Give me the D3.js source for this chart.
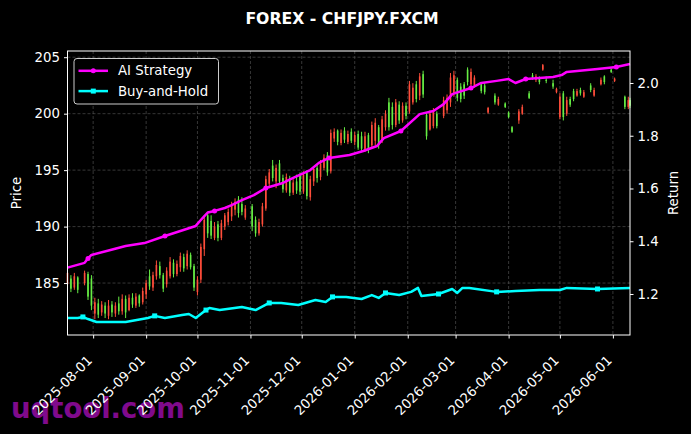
<!DOCTYPE html>
<html>
<head>
<meta charset="utf-8">
<script src="https://cdn.jsdelivr.net/npm/d3@7"></script>
<style>
  body { margin: 0; background: #000; }
  svg { display: block; font-family: 'DejaVu Sans', sans-serif; }
</style>
</head>
<body>
<div id="chart"></div>
<script>
// daily-ish candles: date, open, high, low, close (red = up, green = down)
const ohlc = [
  ['2025-07-17', 184.9, 186.2, 184.6, 185.9], ['2025-07-19', 185.4, 185.7, 184.2, 184.5],
  ['2025-07-21', 184.6, 185.9, 184.4, 185.6], ['2025-07-23', 185.5, 185.6, 184.1, 184.4],
  ['2025-07-27', 185.0, 186.1, 184.8, 185.9], ['2025-07-29', 185.8, 186.0, 183.5, 183.8],
  ['2025-07-31', 185.4, 185.7, 182.6, 183.0], ['2025-08-02', 182.3, 183.7, 181.8, 183.3],
  ['2025-08-04', 183.2, 183.6, 181.9, 182.2], ['2025-08-06', 182.4, 183.4, 182.1, 183.1],
  ['2025-08-08', 183.0, 183.3, 181.9, 182.3], ['2025-08-10', 182.1, 183.5, 181.8, 183.0],
  ['2025-08-12', 183.1, 183.4, 182.0, 182.4], ['2025-08-14', 182.3, 183.3, 182.0, 183.0],
  ['2025-08-16', 183.2, 183.8, 182.2, 182.5], ['2025-08-18', 182.5, 184.0, 182.2, 183.6],
  ['2025-08-20', 183.6, 183.9, 181.9, 182.4], ['2025-08-22', 182.6, 184.0, 182.5, 183.7],
  ['2025-08-24', 183.7, 184.1, 182.8, 183.1], ['2025-08-26', 183.0, 184.1, 182.8, 183.8],
  ['2025-08-28', 183.9, 184.0, 182.9, 183.2], ['2025-08-30', 183.3, 184.6, 183.1, 184.3],
  ['2025-09-01', 184.0, 185.3, 183.6, 185.0], ['2025-09-03', 185.6, 186.2, 184.4, 184.7],
  ['2025-09-05', 184.6, 186.0, 184.3, 185.7], ['2025-09-07', 185.6, 187.0, 185.3, 186.6],
  ['2025-09-09', 186.5, 186.9, 185.4, 185.7], ['2025-09-11', 185.7, 185.9, 184.2, 184.5],
  ['2025-09-13', 184.9, 186.4, 184.6, 186.1], ['2025-09-15', 185.6, 187.3, 185.4, 186.9],
  ['2025-09-17', 186.8, 187.1, 185.5, 185.8], ['2025-09-19', 185.8, 187.0, 185.6, 186.7],
  ['2025-09-21', 186.4, 187.7, 186.0, 187.4], ['2025-09-23', 187.3, 187.6, 186.0, 186.3],
  ['2025-09-25', 186.5, 187.9, 186.2, 187.6], ['2025-09-27', 187.5, 187.7, 186.2, 186.4],
  ['2025-09-29', 186.5, 186.7, 184.3, 184.6], ['2025-10-01', 184.2, 185.6, 183.9, 185.3],
  ['2025-10-03', 185.3, 188.5, 185.0, 188.2], ['2025-10-05', 188.0, 191.0, 187.4, 190.6],
  ['2025-10-07', 191.0, 191.3, 189.0, 189.4], ['2025-10-09', 190.5, 191.0, 188.9, 189.2],
  ['2025-10-11', 189.0, 190.4, 188.8, 190.0], ['2025-10-13', 190.2, 190.5, 188.7, 189.0],
  ['2025-10-15', 189.0, 190.6, 188.8, 190.3], ['2025-10-17', 190.0, 191.2, 189.7, 191.0],
  ['2025-10-19', 190.4, 191.6, 190.1, 191.3], ['2025-10-21', 190.9, 192.2, 190.5, 191.9],
  ['2025-10-23', 191.5, 192.5, 191.0, 192.2], ['2025-10-25', 192.4, 192.7, 190.8, 191.2],
  ['2025-10-27', 192.0, 192.6, 191.0, 191.3], ['2025-10-29', 190.8, 191.9, 190.6, 191.6],
  ['2025-11-02', 191.8, 192.0, 189.6, 190.0], ['2025-11-04', 190.6, 190.9, 189.1, 189.4],
  ['2025-11-06', 189.4, 190.7, 189.2, 190.4], ['2025-11-08', 190.2, 192.1, 190.0, 191.8],
  ['2025-11-10', 191.6, 194.5, 191.4, 194.2], ['2025-11-12', 193.8, 195.1, 193.4, 194.8],
  ['2025-11-14', 195.4, 195.9, 194.0, 194.3], ['2025-11-16', 194.0, 195.5, 193.4, 195.2],
  ['2025-11-18', 195.6, 195.9, 193.7, 194.0], ['2025-11-20', 194.3, 194.6, 193.0, 193.3],
  ['2025-11-22', 193.2, 194.7, 193.0, 194.4], ['2025-11-24', 194.3, 194.5, 192.7, 193.0],
  ['2025-11-26', 193.0, 194.2, 192.8, 193.9], ['2025-11-28', 194.0, 194.6, 192.9, 193.2],
  ['2025-11-30', 194.5, 194.8, 192.8, 193.1], ['2025-12-02', 193.1, 194.9, 192.9, 194.6],
  ['2025-12-04', 194.8, 195.0, 192.4, 192.7], ['2025-12-06', 192.6, 194.5, 192.3, 194.2],
  ['2025-12-08', 194.0, 195.3, 193.6, 195.1], ['2025-12-10', 195.2, 195.5, 193.9, 194.3],
  ['2025-12-12', 194.4, 195.9, 194.1, 195.6], ['2025-12-14', 195.2, 196.4, 195.0, 196.1],
  ['2025-12-16', 196.3, 196.6, 194.5, 194.8], ['2025-12-18', 194.9, 198.6, 194.7, 198.3],
  ['2025-12-20', 197.8, 198.7, 197.5, 198.4], ['2025-12-22', 198.5, 198.6, 197.2, 197.5],
  ['2025-12-24', 197.4, 198.6, 197.2, 198.3], ['2025-12-26', 198.5, 198.8, 197.4, 197.7],
  ['2025-12-28', 197.5, 198.5, 197.3, 198.2], ['2025-12-30', 198.4, 198.7, 197.4, 197.6],
  ['2026-01-01', 197.5, 198.4, 197.2, 198.1], ['2026-01-03', 198.2, 198.5, 196.8, 197.0],
  ['2026-01-05', 198.0, 198.4, 196.6, 196.9], ['2026-01-07', 196.8, 198.4, 196.6, 198.0],
  ['2026-01-09', 198.1, 198.3, 196.5, 196.8], ['2026-01-11', 197.2, 199.3, 197.0, 199.0],
  ['2026-01-13', 197.6, 199.6, 197.2, 199.2], ['2026-01-15', 198.8, 199.0, 196.9, 197.2],
  ['2026-01-17', 197.6, 199.8, 197.4, 199.5], ['2026-01-19', 198.8, 200.3, 198.5, 200.0],
  ['2026-01-21', 201.0, 201.4, 198.5, 198.8], ['2026-01-23', 200.6, 201.0, 198.6, 199.0],
  ['2026-01-25', 199.0, 201.3, 198.8, 201.0], ['2026-01-27', 200.8, 201.1, 199.1, 199.4],
  ['2026-01-29', 199.4, 201.0, 199.2, 200.7], ['2026-01-31', 200.7, 201.0, 199.5, 199.8],
  ['2026-02-02', 200.2, 202.9, 200.0, 202.6], ['2026-02-04', 201.0, 202.7, 200.8, 202.3],
  ['2026-02-06', 202.6, 202.9, 201.0, 201.3], ['2026-02-08', 201.6, 203.6, 201.2, 203.3],
  ['2026-02-10', 203.5, 203.8, 201.4, 201.7], ['2026-02-12', 199.9, 200.1, 197.7, 198.0],
  ['2026-02-14', 198.6, 200.3, 198.5, 200.0], ['2026-02-16', 198.9, 200.5, 198.7, 200.2],
  ['2026-02-18', 200.0, 200.2, 198.7, 198.9], ['2026-02-22', 199.8, 201.5, 199.6, 201.2],
  ['2026-02-24', 200.3, 201.7, 200.0, 201.4], ['2026-02-26', 201.0, 203.6, 200.6, 203.2],
  ['2026-02-28', 201.8, 203.8, 201.5, 203.4], ['2026-03-02', 203.0, 203.2, 201.1, 201.4],
  ['2026-03-04', 202.4, 202.7, 201.0, 201.3], ['2026-03-06', 202.6, 202.8, 201.3, 201.6],
  ['2026-03-08', 203.9, 204.1, 202.5, 202.8], ['2026-03-10', 202.6, 204.0, 202.3, 203.7],
  ['2026-03-12', 202.5, 203.4, 202.3, 203.2], ['2026-03-16', 202.6, 202.8, 201.8, 202.0],
  ['2026-03-18', 202.5, 202.7, 201.7, 201.9], ['2026-03-20', 200.1, 200.6, 200.0, 200.5],
  ['2026-03-24', 201.6, 201.8, 200.8, 201.0], ['2026-03-26', 200.8, 201.5, 200.7, 201.3],
  ['2026-03-30', 200.9, 201.0, 200.5, 200.6], ['2026-04-01', 200.1, 200.2, 199.6, 199.7],
  ['2026-04-03', 198.8, 198.9, 198.3, 198.4], ['2026-04-07', 199.4, 200.4, 199.1, 200.2],
  ['2026-04-09', 200.0, 200.8, 199.9, 200.6], ['2026-04-13', 201.8, 202.0, 201.3, 201.4],
  ['2026-04-15', 203.4, 203.6, 203.0, 203.1], ['2026-04-17', 203.0, 203.5, 202.8, 203.3],
  ['2026-04-19', 203.2, 203.3, 202.6, 202.8], ['2026-04-21', 203.9, 204.4, 203.8, 204.3],
  ['2026-04-23', 203.0, 203.3, 202.7, 202.9], ['2026-04-27', 202.7, 203.0, 202.2, 202.4],
  ['2026-04-29', 201.9, 202.3, 201.8, 202.2], ['2026-05-01', 199.7, 201.8, 199.5, 201.5],
  ['2026-05-03', 201.8, 202.0, 199.4, 199.7], ['2026-05-05', 200.0, 201.5, 199.8, 201.2],
  ['2026-05-07', 201.3, 201.5, 200.6, 200.8], ['2026-05-09', 202.0, 202.2, 201.1, 201.3],
  ['2026-05-11', 201.6, 202.2, 201.5, 202.0], ['2026-05-13', 202.1, 202.3, 201.6, 201.8],
  ['2026-05-15', 201.5, 202.1, 201.4, 201.9], ['2026-05-19', 202.5, 202.7, 201.9, 202.1],
  ['2026-05-21', 201.6, 202.3, 201.5, 202.1], ['2026-05-25', 202.6, 203.2, 202.5, 203.0],
  ['2026-05-27', 203.3, 203.4, 202.6, 202.8], ['2026-05-31', 203.9, 204.0, 203.6, 203.7],
  ['2026-06-02', 202.9, 203.2, 202.8, 203.1], ['2026-06-08', 201.5, 201.6, 200.4, 200.6],
  ['2026-06-10', 200.6, 201.5, 200.4, 201.2], ['2026-06-11', 201.2, 201.4, 200.5, 200.7]
];

// cumulative return, AI strategy
const aiDates = ['2025-07-17', '2025-07-27', '2025-07-29', '2025-07-31', '2025-08-10', '2025-08-20',
  '2025-08-31', '2025-09-12', '2025-09-21', '2025-09-30', '2025-10-04', '2025-10-07', '2025-10-11',
  '2025-10-17', '2025-10-21', '2025-10-27', '2025-11-03', '2025-11-10', '2025-11-20', '2025-11-26',
  '2025-12-06', '2025-12-11', '2025-12-17', '2025-12-29', '2026-01-06', '2026-01-14', '2026-01-18',
  '2026-01-28', '2026-02-08', '2026-02-16', '2026-02-22', '2026-02-27', '2026-03-10', '2026-03-16',
  '2026-03-25', '2026-04-01', '2026-04-05', '2026-04-11', '2026-04-27', '2026-05-02', '2026-05-05',
  '2026-05-23', '2026-06-03', '2026-06-11'];
const aiReturn = [1.300, 1.318, 1.335, 1.348, 1.365, 1.382,
  1.393, 1.420, 1.439, 1.458, 1.488, 1.509, 1.515,
  1.526, 1.537, 1.556, 1.575, 1.602, 1.621, 1.640,
  1.670, 1.697, 1.716, 1.727, 1.742, 1.761, 1.791,
  1.818, 1.882, 1.894, 1.920, 1.958, 1.981, 2.000,
  2.008, 2.015, 2.000, 2.015, 2.023, 2.030, 2.042,
  2.053, 2.061, 2.072];

// cumulative return, buy-and-hold
const bhDates = ['2025-07-17', '2025-07-23', '2025-07-26', '2025-07-29', '2025-08-03', '2025-08-20',
  '2025-09-02', '2025-09-06', '2025-09-12', '2025-09-22', '2025-09-26', '2025-09-30', '2025-10-06',
  '2025-10-08', '2025-10-14', '2025-10-27', '2025-11-04', '2025-11-12', '2025-11-19', '2025-11-29',
  '2025-12-09', '2025-12-15', '2025-12-19', '2025-12-27', '2026-01-05', '2026-01-11', '2026-01-15',
  '2026-01-19', '2026-01-27', '2026-02-03', '2026-02-07', '2026-02-09', '2026-02-19', '2026-02-27',
  '2026-03-02', '2026-03-05', '2026-03-09', '2026-03-25', '2026-04-05', '2026-04-19', '2026-05-01',
  '2026-05-05', '2026-05-23', '2026-06-11'];
const bhReturn = [1.109, 1.109, 1.113, 1.105, 1.094, 1.094,
  1.109, 1.117, 1.109, 1.120, 1.124, 1.109, 1.139,
  1.147, 1.139, 1.151, 1.139, 1.166, 1.166, 1.158,
  1.177, 1.170, 1.189, 1.189, 1.181, 1.196, 1.185,
  1.204, 1.196, 1.208, 1.223, 1.192, 1.200, 1.219,
  1.204, 1.223, 1.223, 1.208, 1.211, 1.215, 1.215,
  1.223, 1.219, 1.223];

const monthTicks = ['2025-08-01', '2025-09-01', '2025-10-01', '2025-11-01', '2025-12-01', '2026-01-01',
  '2026-02-01', '2026-03-01', '2026-04-01', '2026-05-01', '2026-06-01'];
const priceTicks = [185, 190, 195, 200, 205];
const returnTicks = [1.2, 1.4, 1.6, 1.8, 2.0];

const parse = d3.timeParse('%Y-%m-%d');
const W = 691, H = 434;
const margin = {top: 51, right: 61, bottom: 99, left: 67.5};
const upColor = '#ff4d3a', downColor = '#66ee44';

const svg = d3.select('#chart').append('svg')
  .attr('width', W)
  .attr('height', H)
  .style('background', '#000');

// watermark sits under everything
svg.append('text')
  .attr('x', 11)
  .attr('y', 418)
  .attr('fill', '#800a8c')
  .style('font-size', '27.5px')
  .style('font-weight', 'bold')
  .text('uqtool.com');

const x = d3.scaleTime()
  .domain([parse('2025-07-17'), parse('2026-06-11')])
  .range([margin.left, W - margin.right]);
const y = d3.scaleLinear()
  .domain([180.4, 205.55])
  .range([H - margin.bottom, margin.top]);
const y2 = d3.scaleLinear()
  .domain([1.0445, 2.1213])
  .range([H - margin.bottom, margin.top]);

// grid
const grid = svg.append('g').attr('stroke', '#5a5a5a').attr('stroke-width', 0.6).attr('stroke-dasharray', '3,2');
monthTicks.forEach(t => {
  grid.append('line').attr('x1', x(parse(t))).attr('x2', x(parse(t)))
    .attr('y1', margin.top).attr('y2', H - margin.bottom);
});
priceTicks.forEach(t => {
  grid.append('line').attr('x1', margin.left).attr('x2', W - margin.right)
    .attr('y1', y(t)).attr('y2', y(t));
});

// candles
const candles = svg.append('g').selectAll('.candle').data(ohlc).enter().append('g');
candles.append('line')
  .attr('x1', d => x(parse(d[0]))).attr('x2', d => x(parse(d[0])))
  .attr('y1', d => y(d[2])).attr('y2', d => y(d[3]))
  .attr('stroke', d => d[4] >= d[1] ? upColor : downColor)
  .attr('stroke-width', 1);
candles.append('rect')
  .attr('x', d => x(parse(d[0])) - 0.8)
  .attr('width', 1.6)
  .attr('y', d => y(Math.max(d[1], d[4])))
  .attr('height', d => Math.max(0.8, Math.abs(y(d[1]) - y(d[4]))))
  .attr('fill', d => d[4] >= d[1] ? upColor : downColor);

// return lines on the right axis
function drawLine(dates, vals, color, marker) {
  const pts = dates.map((d, i) => [x(parse(d)), y2(vals[i])]);
  svg.append('path')
    .attr('d', d3.line()(pts))
    .attr('fill', 'none')
    .attr('stroke', color)
    .attr('stroke-width', 2.5)
    .attr('stroke-linejoin', 'round');
  const m = svg.append('g').attr('fill', color);
  pts.filter((p, i) => i % 5 === 2).forEach(p => {
    if (marker === 'circle') m.append('circle').attr('cx', p[0]).attr('cy', p[1]).attr('r', 2.5);
    else m.append('rect').attr('x', p[0] - 2.5).attr('y', p[1] - 2.5).attr('width', 5).attr('height', 5);
  });
}
drawLine(aiDates, aiReturn, '#ff00ff', 'circle');
drawLine(bhDates, bhReturn, '#00ffff', 'square');

// frame
svg.append('rect')
  .attr('x', margin.left).attr('y', margin.top)
  .attr('width', W - margin.right - margin.left)
  .attr('height', H - margin.bottom - margin.top)
  .attr('fill', 'none').attr('stroke', '#fff').attr('stroke-width', 1);

// axes
const styleAxis = g => {
  g.select('.domain').remove();
  g.selectAll('line').attr('stroke', '#fff');
  g.selectAll('text').attr('fill', '#fff').style('font-size', '13.3px').style('font-family', 'DejaVu Sans');
};
svg.append('g')
  .attr('transform', `translate(${margin.left},0)`)
  .call(d3.axisLeft(y).tickValues(priceTicks).tickSize(3.5).tickPadding(4))
  .call(styleAxis);
svg.append('g')
  .attr('transform', `translate(${W - margin.right},0)`)
  .call(d3.axisRight(y2).tickValues(returnTicks).tickSize(3.5).tickPadding(4).tickFormat(d3.format('.1f')))
  .call(styleAxis);
const xAxis = svg.append('g')
  .attr('transform', `translate(0,${H - margin.bottom})`)
  .call(d3.axisBottom(x).tickValues(monthTicks.map(parse)).tickSize(3.5).tickFormat(d3.timeFormat('%Y-%m-%d')))
  .call(styleAxis);
xAxis.selectAll('text')
  .attr('y', 0).attr('dy', '0.35em')
  .attr('text-anchor', 'end')
  .attr('transform', 'translate(-4,23) rotate(-45)');

// axis titles
svg.append('text')
  .attr('transform', `translate(21,${(margin.top + H - margin.bottom) / 2}) rotate(-90)`)
  .attr('text-anchor', 'middle').attr('fill', '#fff').style('font-size', '13.3px')
  .text('Price');
svg.append('text')
  .attr('transform', `translate(678,${(margin.top + H - margin.bottom) / 2}) rotate(-90)`)
  .attr('text-anchor', 'middle').attr('fill', '#fff').style('font-size', '13.3px')
  .text('Return');

// title
svg.append('text')
  .attr('x', 342)
  .attr('y', 24)
  .attr('text-anchor', 'middle').attr('fill', '#fff')
  .style('font-size', '15.7px').style('font-weight', 'bold')
  .text('FOREX - CHFJPY.FXCM');

// legend
const legend = svg.append('g').attr('transform', 'translate(74,58.5)');
legend.append('rect')
  .attr('width', 144.5).attr('height', 45.5).attr('rx', 3)
  .attr('fill', '#000').attr('stroke', '#cccccc').attr('stroke-width', 1);
const items = [
  {name: 'AI Strategy', color: '#ff00ff', marker: 'circle'},
  {name: 'Buy-and-Hold', color: '#00ffff', marker: 'square'}
];
items.forEach((it, i) => {
  const row = legend.append('g').attr('transform', `translate(0,${12.3 + i * 20.3})`);
  row.append('line').attr('x1', 4.5).attr('x2', 34).attr('stroke', it.color).attr('stroke-width', 2.5);
  if (it.marker === 'circle') row.append('circle').attr('cx', 19.3).attr('r', 2.5).attr('fill', it.color);
  else row.append('rect').attr('x', 16.8).attr('y', -2.5).attr('width', 5).attr('height', 5).attr('fill', it.color);
  row.append('text').attr('x', 44).attr('dy', '0.35em').attr('fill', '#fff').style('font-size', '13.3px').text(it.name);
});
</script>
</body>
</html>
